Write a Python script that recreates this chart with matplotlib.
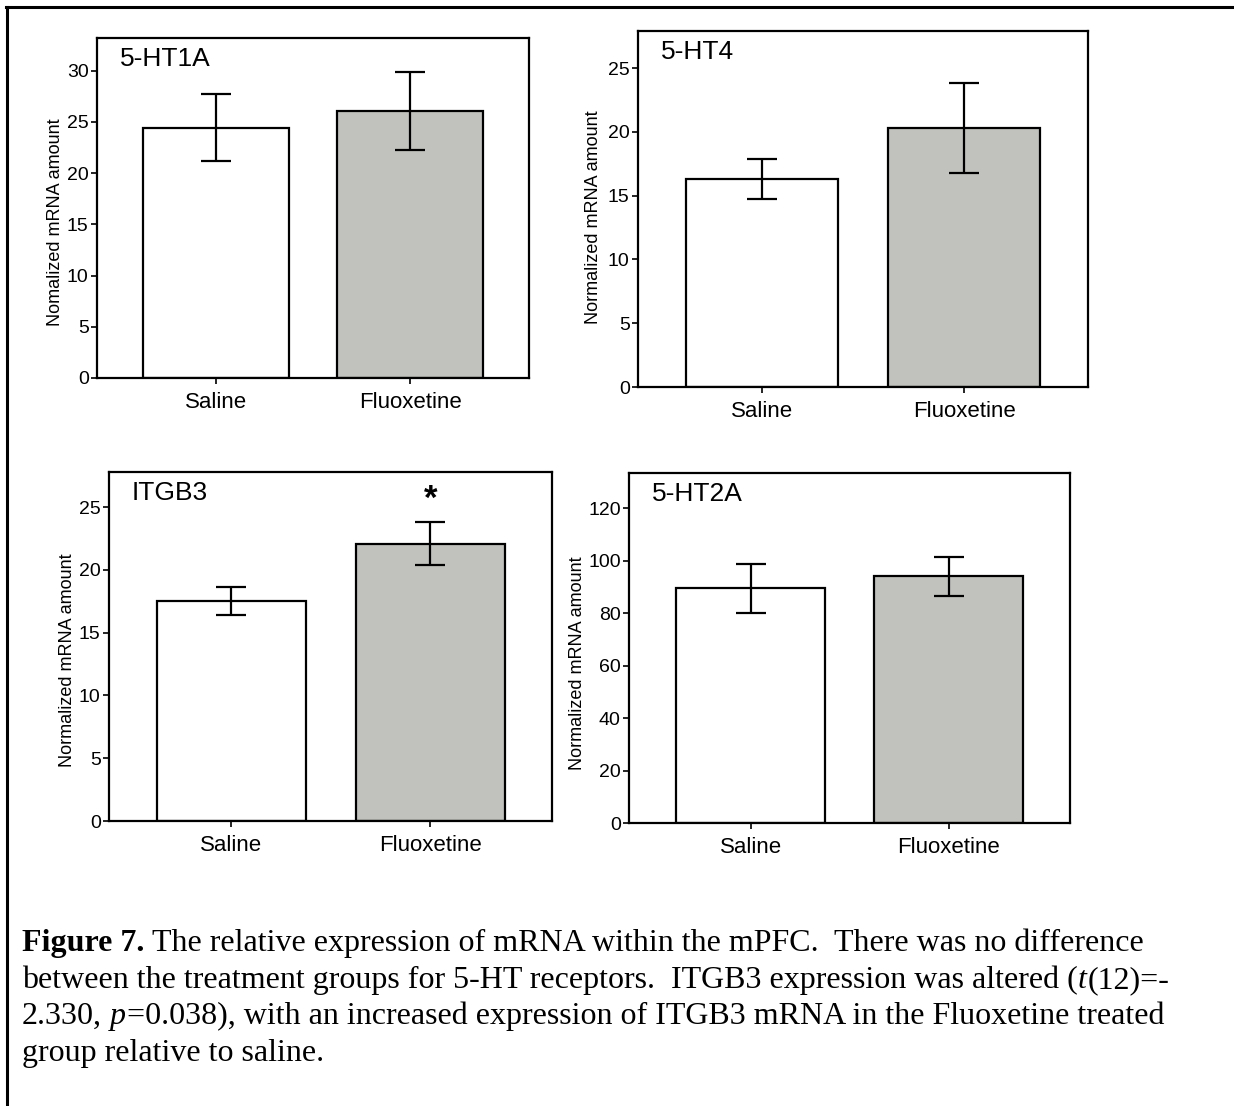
import matplotlib
matplotlib.use("Agg")
import matplotlib.pyplot as plt
from matplotlib.lines import Line2D

plt.rcParams["font.family"] = ["Liberation Sans", "DejaVu Sans"]

# data (mean, error half-width)
groups = ["Saline", "Fluoxetine"]
ht1a_mean = [24.45, 26.1]
ht1a_err = [3.25, 3.8]
ht4_mean = [16.3, 20.3]
ht4_err = [1.6, 3.5]
itgb3_mean = [17.5, 22.1]
itgb3_err = [1.1, 1.7]
ht2a_mean = [89.4, 94.0]
ht2a_err = [9.2, 7.3]

W, H = 1234, 1106
fig = plt.figure(figsize=(W / 100, H / 100), dpi=100)

# outer frame (top and left edge of the box)
fig.add_artist(Line2D([6 / W, 1], [1 - 7 / H, 1 - 7 / H], color="black", lw=2.2))
fig.add_artist(Line2D([7 / W, 7 / W], [0, 1 - 7 / H], color="black", lw=2.2))

bar_colors = ["white", "#c1c1bd"]

panels = [
    # title, means, errs, ylabel, yticks, ytop, rect (px: left, top, right, bottom), label x offset px, label y frac
    ("5-HT1A", ht1a_mean, ht1a_err, "Nomalized mRNA amount", range(0, 31, 5), 33.2,
     (97, 38, 529, 378), 41, 0.459),
    ("5-HT4", ht4_mean, ht4_err, "Normalized mRNA amount", range(0, 26, 5), 27.9,
     (638, 31, 1088, 387), 45, 0.478),
    ("ITGB3", itgb3_mean, itgb3_err, "Normalized mRNA amount", range(0, 26, 5), 27.8,
     (109, 472, 552, 821), 42, 0.461),
    ("5-HT2A", ht2a_mean, ht2a_err, "Normalized mRNA amount", range(0, 121, 20), 133.4,
     (629, 473, 1070, 823), 52, 0.457),
]

for title, means, errs, ylab, yt, ytop, (l, t, r, b), lab_dx, lab_fy in panels:
    ax = fig.add_axes([l / W, 1 - b / H, (r - l) / W, (b - t) / H])
    x = [0, 1]
    ax.bar(x, means, width=0.75, color=bar_colors, edgecolor="black", linewidth=1.6, zorder=2)
    ax.errorbar(x, means, yerr=errs, fmt="none", ecolor="black", elinewidth=1.6,
                capsize=11, capthick=1.6, zorder=3)
    ax.set_xlim(-0.614, 1.612)
    ax.set_ylim(0, ytop)
    ax.set_yticks(list(yt))
    ax.set_xticks(x)
    ax.set_xticklabels(groups, fontsize=16)
    ax.tick_params(axis="y", labelsize=14, length=4, width=1.2, pad=2)
    ax.tick_params(axis="x", length=4, width=1.2, pad=6)
    for s in ax.spines.values():
        s.set_linewidth(1.6)
    ax.set_ylabel(ylab, fontsize=13)
    ax.yaxis.set_label_coords(-lab_dx / (r - l), lab_fy)
    ax.yaxis.label.set_va("center")
    ax.text(23 / (r - l), 1 - 9 / (b - t), title, transform=ax.transAxes,
            fontsize=19, ha="left", va="top")
    if title == "ITGB3":
        ax.text(1, 25.6, "*", fontsize=25, fontweight="bold", ha="center", va="center")

# caption, drawn piece by piece so bold / italic parts sit inline
cap_size = 23
space_px = 0.25 * cap_size * 100 / 72
lines = [
    [("Figure 7.", "bold"), (" ", None),
     ("The relative expression of mRNA within the mPFC.  There was no difference", "normal")],
    [("between the treatment groups for 5-HT receptors.  ITGB3 expression was altered (", "normal"),
     ("t", "italic"), ("(12)=-", "normal")],
    [("2.330, ", "normal"), ("p", "italic"),
     ("=0.038), with an increased expression of ITGB3 mRNA in the Fluoxetine treated", "normal")],
    [("group relative to saline.", "normal")],
]
baselines = [951, 988, 1024, 1061]
renderer = fig.canvas.get_renderer()
for segs, yb in zip(lines, baselines):
    xp = 22
    for s, style in segs:
        if style is None:
            xp += space_px
            continue
        if s.startswith(" "):
            xp += space_px * (len(s) - len(s.lstrip(" ")))
            s = s.lstrip(" ")
        trail = len(s) - len(s.rstrip(" "))
        s = s.rstrip(" ")
        txt = fig.text(xp / W, 1 - yb / H, s, fontsize=cap_size, family="Liberation Serif",
                       fontweight="bold" if style == "bold" else "normal",
                       fontstyle="italic" if style == "italic" else "normal",
                       ha="left", va="baseline")
        xp += txt.get_window_extent(renderer).width + trail * space_px
        if style == "italic":
            xp += 1

fig.savefig("out.png", dpi=100)
